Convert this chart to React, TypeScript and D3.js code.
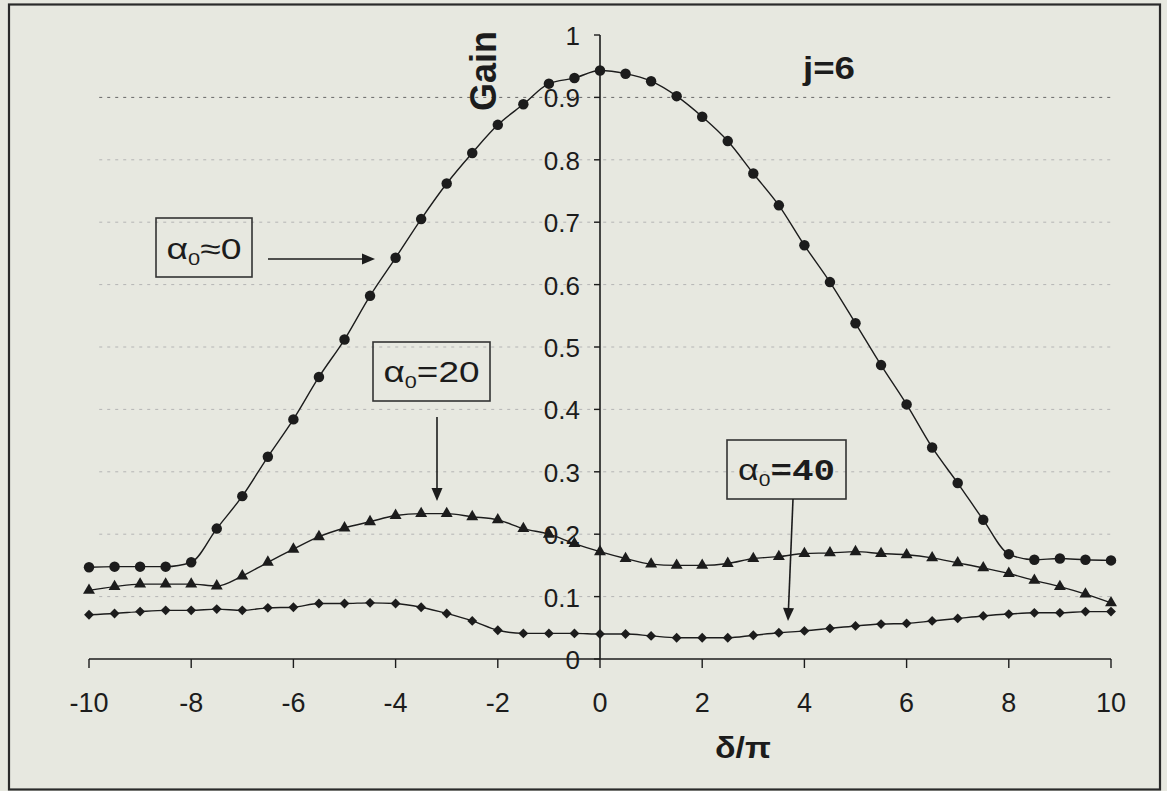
import React from 'react'
import * as d3 from 'd3'

// δ/π sample points
const delta = [
  -10, -9.5, -9, -8.5, -8, -7.5, -7, -6.5, -6, -5.5, -5, -4.5, -4, -3.5, -3, -2.5, -2, -1.5, -1, -0.5,
  0, 0.5, 1, 1.5, 2, 2.5, 3, 3.5, 4, 4.5, 5, 5.5, 6, 6.5, 7, 7.5, 8, 8.5, 9, 9.5, 10
]

// α0 ≈ 0 (circles)
const gainA0 = [
  0.147, 0.148, 0.148, 0.148, 0.155, 0.209, 0.261, 0.324, 0.384, 0.452, 0.512, 0.582, 0.643, 0.705, 0.762, 0.811, 0.856, 0.889, 0.922, 0.931,
  0.943, 0.938, 0.926, 0.902, 0.869, 0.83, 0.778, 0.727, 0.663, 0.604, 0.538, 0.471, 0.408, 0.339, 0.282, 0.223, 0.168, 0.159, 0.161, 0.159, 0.158
]

// α0 = 20 (triangles)
const gainA20 = [
  0.11, 0.116, 0.12, 0.12, 0.12, 0.117, 0.133, 0.155, 0.176, 0.196, 0.21, 0.22, 0.23, 0.233, 0.233, 0.228, 0.223, 0.209, 0.2, 0.185,
  0.172, 0.161, 0.152, 0.15, 0.15, 0.153, 0.161, 0.164, 0.169, 0.17, 0.172, 0.169, 0.167, 0.162, 0.154, 0.146, 0.137, 0.126, 0.116, 0.104, 0.09
]

// α0 = 40 (diamonds)
const gainA40 = [
  0.071, 0.073, 0.076, 0.078, 0.078, 0.08, 0.078, 0.082, 0.083, 0.089, 0.089, 0.09, 0.089, 0.083, 0.073, 0.061, 0.046, 0.041, 0.041, 0.041,
  0.04, 0.04, 0.037, 0.034, 0.034, 0.034, 0.038, 0.042, 0.045, 0.049, 0.053, 0.056, 0.057, 0.061, 0.065, 0.069, 0.072, 0.074, 0.074, 0.076, 0.076
]

const xTicks = [-10, -8, -6, -4, -2, 0, 2, 4, 6, 8, 10]
const yTicks = [0, 0.1, 0.2, 0.3, 0.4, 0.5, 0.6, 0.7, 0.8, 0.9, 1]
const gridValues = [0.1, 0.2, 0.3, 0.4, 0.5, 0.6, 0.7, 0.8, 0.9]

const W = 1167
const H = 791
const INK = '#1c1c1c'
const FONT = '"Liberation Sans", Arial, sans-serif'

const x = d3.scaleLinear().domain([-10, 10]).range([89, 1111])
const y = d3.scaleLinear().domain([0, 1]).range([659, 35])

const series = [
  { values: gainA0, symbol: d3.symbolCircle, size: 86 },
  { values: gainA20, symbol: d3.symbolTriangle, size: 62 },
  { values: gainA40, symbol: d3.symbolDiamond2, size: 62 }
]

const line = d3.line<[number, number]>()
  .x(d => x(d[0]))
  .y(d => y(d[1]))
  .curve(d3.curveMonotoneX)

function Arrow({ x1, y1, x2, y2 }: { x1: number, y1: number, x2: number, y2: number }) {
  const ang = Math.atan2(y2 - y1, x2 - x1)
  const len = 13
  const half = 5.5
  const bx = x2 - len * Math.cos(ang)
  const by = y2 - len * Math.sin(ang)
  const px = -Math.sin(ang) * half
  const py = Math.cos(ang) * half
  return (
    <g>
      <line x1={x1} y1={y1} x2={bx} y2={by} stroke={INK} strokeWidth={1.6} />
      <path d={`M${x2},${y2}L${bx + px},${by + py}L${bx - px},${by - py}Z`} fill={INK} />
    </g>
  )
}

function Label({ x0, y0, x1, y1, rest, width, baseline, mono }:
  { x0: number, y0: number, x1: number, y1: number, rest: string, width: number, baseline: number, mono?: boolean }) {
  const cx = (x0 + x1) / 2
  return (
    <g>
      <rect x={x0} y={y0} width={x1 - x0} height={y1 - y0} fill="none" stroke="#333" strokeWidth={1.6} />
      <text x={cx} y={baseline} textAnchor="middle" fontFamily={FONT} fontSize={29} fill={INK}
        textLength={width} lengthAdjust="spacingAndGlyphs">
        <tspan>α</tspan>
        <tspan fontSize={17} dy={6}>0</tspan>
        <tspan dy={-6} fontFamily={mono ? '"Liberation Mono", monospace' : FONT} fontWeight={mono ? 'bold' : 'normal'}>{rest}</tspan>
      </text>
    </g>
  )
}

export default function App() {
  return (
    <svg width={W} height={H} style={{ position: 'absolute', left: 0, top: 0, display: 'block' }}>
      <rect x={0} y={0} width={W} height={H} fill="#e7e8e0" />
      <rect x={9} y={4.5} width={1151} height={785} fill="none" stroke="#2a2a2a" strokeWidth={2.2} />

      {/* faint dotted gridlines */}
      {gridValues.map(v => (
        <line key={v} x1={x(-9.8)} x2={x(10)} y1={y(v)} y2={y(v)}
          stroke={v === 0.9 ? '#666' : '#b4b4b4'} strokeWidth={1} strokeDasharray="3 5" />
      ))}

      {/* axes */}
      <line x1={x(-10)} x2={x(10)} y1={y(0)} y2={y(0)} stroke={INK} strokeWidth={1.6} />
      {xTicks.map(t => (
        <g key={t}>
          <line x1={x(t)} x2={x(t)} y1={y(0)} y2={y(0) + 9} stroke={INK} strokeWidth={1.4} />
          <text x={x(t)} y={712} textAnchor="middle" fontFamily={FONT} fontSize={27} fill={INK}>{t}</text>
        </g>
      ))}
      <line x1={x(0)} x2={x(0)} y1={y(1)} y2={y(0)} stroke={INK} strokeWidth={1.6} />
      {yTicks.map(t => (
        <g key={t}>
          <line x1={x(0) - 6} x2={x(0)} y1={y(t)} y2={y(t)} stroke={INK} strokeWidth={1.4} />
          <text x={580} y={y(t) + 10} textAnchor="end" fontFamily={FONT} fontSize={26} fill={INK}>{t}</text>
        </g>
      ))}

      {/* series */}
      {series.map((s, i) => {
        const pts = delta.map((d, k) => [d, s.values[k]] as [number, number])
        const sym = d3.symbol().type(s.symbol).size(s.size)()
        return (
          <g key={i}>
            <path d={line(pts) ?? ''} fill="none" stroke={INK} strokeWidth={1.4} />
            {pts.map((p, k) => (
              <path key={k} d={sym ?? ''} transform={`translate(${x(p[0])},${y(p[1])})`} fill={INK} />
            ))}
          </g>
        )
      })}

      {/* titles */}
      <text transform={`translate(496,71) rotate(-90)`} textAnchor="middle" fontFamily={FONT}
        fontWeight="bold" fontSize={36} fill={INK}>Gain</text>
      <text x={829} y={79} textAnchor="middle" fontFamily={FONT} fontWeight="bold" fontSize={31} fill={INK}
        textLength={52} lengthAdjust="spacingAndGlyphs">j=6</text>
      <text x={743} y={758} textAnchor="middle" fontFamily={FONT} fontWeight="bold" fontSize={30} fill={INK}
        textLength={56} lengthAdjust="spacingAndGlyphs">δ/π</text>

      {/* annotations */}
      <Label x0={156} y0={218} x1={252} y1={277} rest="≈0" width={75} baseline={259} />
      <Arrow x1={268} y1={259} x2={375} y2={259} />
      <Label x0={373} y0={342} x1={490} y1={401} rest="=20" width={96} baseline={382} />
      <Arrow x1={437} y1={417} x2={437} y2={501} />
      <Label x0={727} y0={440} x1={846} y1={499} rest="=40" width={97} baseline={480} mono />
      <Arrow x1={793} y1={499} x2={788} y2={621} />
    </svg>
  )
}
